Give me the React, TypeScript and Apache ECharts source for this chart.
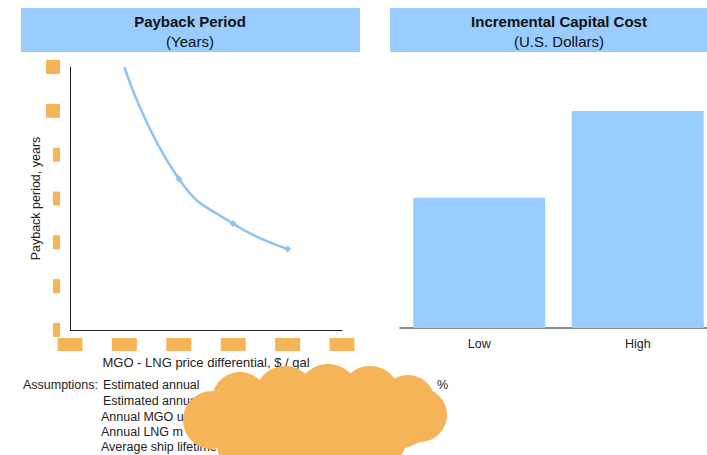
import React, { useEffect, useRef } from "react";
import * as echarts from "echarts";

// ---- data ----
const priceDiff = [1, 2, 3, 4];
const paybackYears = [12, 6.9, 4.85, 3.7];
const yTicks = [0, 2, 4, 6, 8, 10, 12];
const costCategories = ["Low", "High"];
const costValues = [1.5, 2.5];
const assumptionLines = [
  "Estimated annual",
  "Estimated annual",
  "Annual MGO use",
  "Annual LNG m",
  "Average ship lifetime:",
];

const ORANGE = "#F5B457";
const BLUE = "#99CCFF";
const FONT = "Liberation Sans, Arial, sans-serif";

export default function App() {
  const ref = useRef<HTMLDivElement>(null);
  useEffect(() => {
    if (!ref.current) return;
    const chart = echarts.init(ref.current, null, { renderer: "svg" });

    const lineData = priceDiff.map((x, i) =>
      i === 0 ? { value: [x, paybackYears[i]], symbolSize: 0 } : { value: [x, paybackYears[i]] }
    );

    const lineYs = [385, 401, 417, 432, 447];
    const txt = (text: string, x: number, y: number, align = "left") => ({
      type: "text",
      x,
      y,
      z: 5,
      style: { text, font: `12.5px ${FONT}`, fill: "#222", align, verticalAlign: "middle" },
    });
    const assumptionTexts: any[] = [
      txt("Assumptions:", 98, lineYs[0], "right"),
      ...assumptionLines.map((t, i) => txt(t, i < 2 ? 103 : 101, lineYs[i])),
      txt("%", 437, lineYs[0]),
    ];

    const cloudParts: any[] = [
      { type: "ellipse", shape: { cx: 315, cy: 425, rx: 120, ry: 35 } },
      { type: "circle", shape: { cx: 240, cy: 400, r: 28 } },
      { type: "circle", shape: { cx: 285, cy: 396, r: 30 } },
      { type: "circle", shape: { cx: 328, cy: 395, r: 31 } },
      { type: "circle", shape: { cx: 370, cy: 396, r: 30 } },
      { type: "circle", shape: { cx: 408, cy: 402, r: 27 } },
      { type: "circle", shape: { cx: 420, cy: 415, r: 27 } },
      { type: "circle", shape: { cx: 212, cy: 420, r: 29 } },
      { type: "circle", shape: { cx: 250, cy: 448, r: 32 } },
      { type: "circle", shape: { cx: 320, cy: 450, r: 30 } },
      { type: "circle", shape: { cx: 380, cy: 440, r: 26 } },
    ].map((p) => ({ ...p, z: 10, style: { fill: ORANGE } }));

    chart.setOption({
      animation: false,
      textStyle: { fontFamily: FONT },
      graphic: [
        { type: "rect", shape: { x: 21, y: 8, width: 339, height: 44 }, style: { fill: BLUE }, z: 1 },
        { type: "rect", shape: { x: 390, y: 8, width: 340, height: 44 }, style: { fill: BLUE }, z: 1 },
        {
          type: "text", x: 190, y: 21, z: 2,
          style: { text: "Payback Period", font: `bold 15px ${FONT}`, fill: "#111", align: "center", verticalAlign: "middle" },
        },
        {
          type: "text", x: 190, y: 41, z: 2,
          style: { text: "(Years)", font: `15px ${FONT}`, fill: "#111", align: "center", verticalAlign: "middle" },
        },
        {
          type: "text", x: 559, y: 21, z: 2,
          style: { text: "Incremental Capital Cost", font: `bold 15px ${FONT}`, fill: "#111", align: "center", verticalAlign: "middle" },
        },
        {
          type: "text", x: 559, y: 41, z: 2,
          style: { text: "(U.S. Dollars)", font: `15px ${FONT}`, fill: "#111", align: "center", verticalAlign: "middle" },
        },
        ...assumptionTexts,
        ...cloudParts,
      ],
      grid: [
        { left: 70, top: 67, width: 272, height: 263 },
        { left: 400, top: 111, width: 317, height: 217 },
      ],
      xAxis: [
        {
          type: "value",
          gridIndex: 0,
          min: 0,
          max: 5,
          interval: 1,
          axisLine: { show: true, lineStyle: { color: "#222", width: 1 } },
          axisTick: { show: false },
          splitLine: { show: false },
          axisLabel: {
            margin: 8,
            formatter: () => "{b|}",
            rich: { b: { width: 25, height: 13, backgroundColor: ORANGE } },
          },
          name: "MGO - LNG price differential, $ / gal",
          nameLocation: "middle",
          nameGap: 25,
          nameTextStyle: { fontSize: 13, color: "#222", fontFamily: FONT },
        },
        {
          type: "category",
          gridIndex: 1,
          data: costCategories,
          axisLine: { show: true, lineStyle: { color: "#666", width: 1.5 } },
          axisTick: { show: false },
          axisLabel: { margin: 9, fontSize: 12.5, color: "#222", fontFamily: FONT },
        },
      ],
      yAxis: [
        {
          type: "value",
          gridIndex: 0,
          min: yTicks[0],
          max: yTicks[yTicks.length - 1],
          interval: yTicks[1] - yTicks[0],
          axisLine: { show: true, lineStyle: { color: "#222", width: 1 } },
          axisTick: { show: false },
          splitLine: { show: false },
          axisLabel: {
            margin: 10,
            formatter: (v: number) => (v >= 10 ? "{w|}" : "{n|}"),
            rich: {
              w: { width: 14, height: 14, backgroundColor: ORANGE },
              n: { width: 7, height: 14, backgroundColor: ORANGE },
            },
          },
          name: "Payback period, years",
          nameLocation: "middle",
          nameRotate: 90,
          nameGap: 28,
          nameTextStyle: { fontSize: 12.5, color: "#222", fontFamily: FONT },
        },
        {
          type: "value",
          gridIndex: 1,
          min: 0,
          max: 2.5,
          show: false,
          splitLine: { show: false },
        },
      ],
      series: [
        {
          type: "line",
          xAxisIndex: 0,
          yAxisIndex: 0,
          data: lineData,
          smooth: 0.5,
          symbol: "diamond",
          symbolSize: 7,
          lineStyle: { color: "#8FC3F2", width: 2.5 },
          itemStyle: { color: "#8FC3F2" },
          clip: true,
        },
        {
          type: "bar",
          xAxisIndex: 1,
          yAxisIndex: 1,
          data: costValues,
          barWidth: 132,
          itemStyle: { color: BLUE },
        },
      ],
    });
    return () => chart.dispose();
  }, []);
  return (
    <div
      ref={ref}
      style={{ position: "fixed", left: 0, top: 0, width: 720, height: 455, background: "#fff" }}
    />
  );
}
